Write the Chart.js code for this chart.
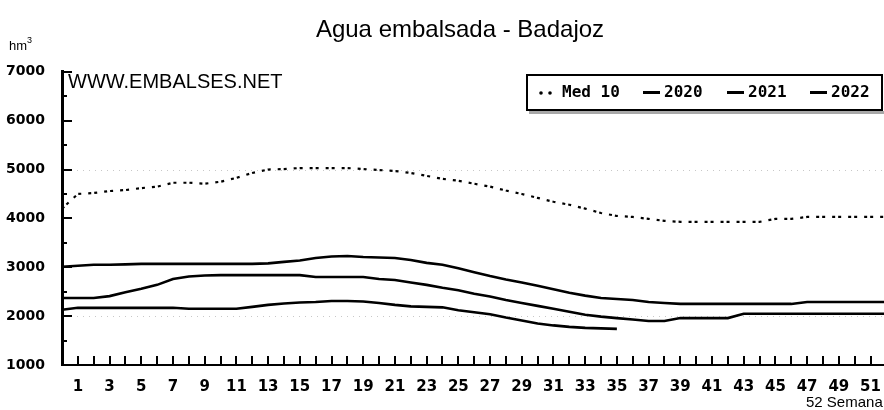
<!DOCTYPE html>
<html>
<head>
<meta charset="utf-8">
<title>Agua embalsada - Badajoz</title>
<script src="https://cdn.jsdelivr.net/npm/chart.js@4/dist/chart.umd.min.js"></script>
<style>
  html, body { margin: 0; padding: 0; background: #fff; overflow: hidden; }
  #wrap { width: 920px; height: 410px; }
</style>
</head>
<body>
<div id="wrap"><canvas id="grafico" width="920" height="410"></canvas></div>
<script>
// semanas del año hidrológico
const semanas = [0,1,2,3,4,5,6,7,8,9,10,11,12,13,14,15,16,17,18,19,20,21,22,23,24,25,
  26,27,28,29,30,31,32,33,34,35,36,37,38,39,40,41,42,43,44,45,46,47,48,49,50,51,52];

// hm3 embalsados
const med10 = [4200,4500,4520,4560,4580,4620,4650,4730,4730,4710,
  4750,4830,4930,5000,5010,5030,5030,5030,5030,5010,
  4990,4970,4930,4870,4810,4770,4710,4650,4570,4500,
  4420,4340,4280,4200,4110,4050,4030,3990,3950,3930,
  3930,3930,3930,3930,3930,3990,3990,4030,4030,4030,
  4030,4030,4030];
const serie2020 = [3010,3030,3050,3050,3060,3070,3070,3070,3070,3070,
  3070,3070,3070,3080,3110,3140,3190,3220,3230,3210,
  3200,3190,3150,3090,3050,2980,2900,2820,2750,2690,
  2620,2550,2480,2420,2370,2350,2330,2290,2270,2250,
  2250,2250,2250,2250,2250,2250,2250,2290,2290,2290,
  2290,2290,2290];
const serie2021 = [2370,2370,2370,2410,2490,2560,2640,2760,2810,2830,
  2840,2840,2840,2840,2840,2840,2800,2800,2800,2800,
  2760,2740,2690,2640,2580,2530,2460,2400,2330,2270,
  2210,2150,2090,2030,1990,1960,1930,1900,1900,1960,
  1960,1960,1960,2050,2050,2050,2050,2050,2050,2050,
  2050,2050,2050];
const serie2022 = [2130,2170,2170,2170,2170,2170,2170,2170,2150,2150,
  2150,2150,2190,2230,2260,2280,2290,2310,2310,2300,
  2270,2230,2200,2190,2180,2120,2080,2040,1970,1910,
  1850,1810,1780,1760,1750,1740];

const yTicks = [1000,2000,3000,4000,5000,6000,7000];
const leyenda = ['Med 10','2020','2021','2022'];

function puntos(valores) {
  return valores.map((v, i) => ({ x: semanas[i], y: v }));
}

// marcas de los ejes, rejilla tenue, leyenda y textos sueltos
const extras = {
  id: 'extras',
  beforeDatasetsDraw(chart) {
    const ctx = chart.ctx, a = chart.chartArea, ys = chart.scales.y;
    ctx.save();
    ctx.strokeStyle = '#c8c8c8';
    ctx.lineWidth = 1;
    ctx.setLineDash([1, 5]);
    [2000, 5000].forEach(v => {
      const y = Math.round(ys.getPixelForValue(v)) + 0.5;
      ctx.beginPath(); ctx.moveTo(a.left + 15, y); ctx.lineTo(a.right, y); ctx.stroke();
    });
    ctx.restore();
  },
  afterDraw(chart) {
    const ctx = chart.ctx, a = chart.chartArea;
    const xs = chart.scales.x, ys = chart.scales.y;
    ctx.save();
    ctx.strokeStyle = '#000';
    ctx.lineWidth = 2;
    // marcas semanales hacia dentro
    for (let w = 1; w <= 53; w++) {
      const x = Math.round(xs.getPixelForValue(w));
      ctx.beginPath(); ctx.moveTo(x, a.bottom); ctx.lineTo(x, a.bottom - 9); ctx.stroke();
    }
    for (let v = 1500; v <= 7000; v += 500) {
      const y = Math.round(ys.getPixelForValue(v));
      const len = v % 1000 === 0 ? 10 : 5;
      ctx.beginPath(); ctx.moveTo(a.left, y); ctx.lineTo(a.left + len, y); ctx.stroke();
    }

    ctx.fillStyle = '#000';
    ctx.textBaseline = 'alphabetic';
    ctx.font = '13px "Liberation Sans"';
    ctx.fillText('hm', 9, 50);
    ctx.font = '9px "Liberation Sans"';
    ctx.fillText('3', 27, 43);
    ctx.font = '20px "Liberation Sans"';
    ctx.fillText('WWW.EMBALSES.NET', 68, 88);
    ctx.font = '15px "Liberation Sans"';
    ctx.fillText('52 Semana', 806, 407);

    // leyenda
    ctx.fillStyle = '#a8a8a8';
    ctx.fillRect(529, 111, 360, 3);
    ctx.fillStyle = '#fff';
    ctx.fillRect(526, 74, 357, 36);
    ctx.lineWidth = 2;
    ctx.strokeRect(527, 75, 355, 35);
    ctx.fillStyle = '#000';
    ctx.beginPath(); ctx.arc(541, 93, 1.8, 0, Math.PI * 2); ctx.fill();
    ctx.beginPath(); ctx.arc(550, 93, 1.8, 0, Math.PI * 2); ctx.fill();
    ctx.font = 'bold 16px "DejaVu Sans Mono"';
    ctx.textBaseline = 'middle';
    ctx.fillText(leyenda[0], 562, 93);
    const items = [[643, leyenda[1]], [727, leyenda[2]], [810, leyenda[3]]];
    ctx.lineWidth = 3;
    items.forEach(([x, t]) => {
      ctx.beginPath(); ctx.moveTo(x, 92.5); ctx.lineTo(x + 17, 92.5); ctx.stroke();
      ctx.fillText(t, x + 21, 93);
    });
    ctx.restore();
  }
};

const fuenteEje = { family: 'DejaVu Sans', weight: 'bold', size: 14 };
const fuenteSemanas = { family: 'DejaVu Sans', weight: 'bold', size: 15 };

new Chart(document.getElementById('grafico'), {
  type: 'line',
  data: {
    datasets: [
      { label: leyenda[0], data: puntos(med10), borderColor: '#000', borderWidth: 2.2,
        borderDash: [3, 3, 3, 7], pointRadius: 0, tension: 0 },
      { label: leyenda[1], data: puntos(serie2020), borderColor: '#000', borderWidth: 2.6,
        pointRadius: 0, tension: 0 },
      { label: leyenda[2], data: puntos(serie2021), borderColor: '#000', borderWidth: 2.6,
        pointRadius: 0, tension: 0 },
      { label: leyenda[3], data: puntos(serie2022), borderColor: '#000', borderWidth: 2.6,
        pointRadius: 0, tension: 0 }
    ]
  },
  options: {
    responsive: false,
    animation: false,
    layout: { padding: 0 },
    plugins: {
      legend: { display: false },
      tooltip: { enabled: false },
      title: {
        display: true,
        text: 'Agua embalsada - Badajoz',
        color: '#000',
        font: { family: 'Liberation Sans', size: 24, weight: 'normal' },
        padding: { top: 16, bottom: 27 }
      }
    },
    scales: {
      x: {
        type: 'linear',
        min: 0,
        max: 53.3,
        afterFit: s => { s.height = 45; },
        grid: { display: false, drawTicks: false },
        border: { display: true, color: '#000', width: 2 },
        ticks: {
          stepSize: 1,
          autoSkip: false,
          maxRotation: 0,
          padding: 13,
          color: '#000',
          font: fuenteSemanas,
          callback: v => (Number.isInteger(v) && v % 2 === 1 && v <= 51) ? String(v) : ''
        }
      },
      y: {
        min: yTicks[0],
        max: yTicks[yTicks.length - 1],
        afterFit: s => { s.width = 62; },
        afterBuildTicks: s => { s.ticks = yTicks.map(v => ({ value: v })); },
        grid: { display: false, drawTicks: false },
        border: { display: true, color: '#000', width: 3 },
        ticks: { padding: 17, color: '#000', font: fuenteEje, callback: v => String(v) }
      }
    }
  },
  plugins: [extras]
});
</script>
</body>
</html>
